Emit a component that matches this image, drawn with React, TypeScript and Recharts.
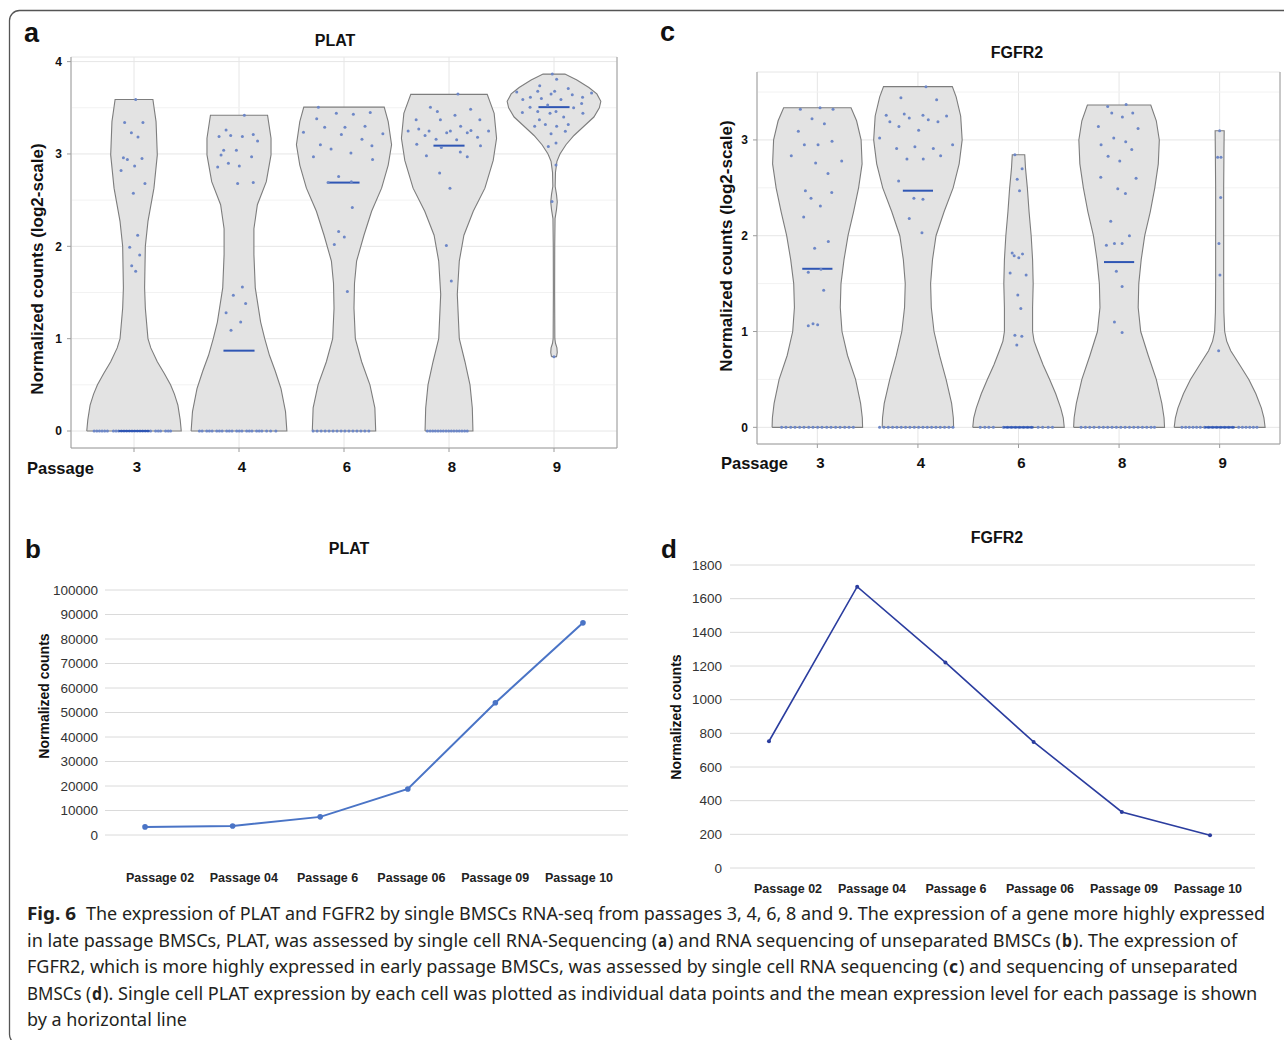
import React, { useLayoutEffect, useRef, useState } from 'react';
import { ScatterChart, Scatter, XAxis, YAxis, CartesianGrid, ReferenceLine, LineChart, Line } from 'recharts';

type Pair = [number, number];
const FONT = '"Liberation Sans", Arial, Helvetica, sans-serif';

// ---------------- data : single-cell violins ----------------
const passages = ['3', '4', '6', '8', '9'];
const platTicks = [0, 1, 2, 3, 4];
const fgfrTicks = [0, 1, 2, 3];
const minorTicks = [0.5, 1.5, 2.5, 3.5];

// density outline: [log2 value, half width in category units]
const platShape3: Pair[] = [[0, 0.45], [0.12, 0.44], [0.28, 0.418], [0.4, 0.385], [0.5, 0.348], [0.62, 0.29], [0.75, 0.222], [0.9, 0.16], [1, 0.133], [1.33, 0.108], [1.55, 0.101], [2, 0.108], [2.27, 0.133], [2.63, 0.19], [2.99, 0.222], [3.35, 0.21], [3.59, 0.18]];
const platShape4: Pair[] = [[0, 0.456], [0.21, 0.443], [0.46, 0.4], [0.65, 0.345], [0.82, 0.29], [1.0, 0.245], [1.18, 0.206], [1.55, 0.155], [1.91, 0.142], [2.19, 0.142], [2.45, 0.175], [2.7, 0.26], [2.99, 0.305], [3.17, 0.305], [3.42, 0.272]];
const platShape6: Pair[] = [[0, 0.302], [0.25, 0.294], [0.5, 0.247], [0.75, 0.168], [1, 0.108], [1.33, 0.095], [1.6, 0.1], [1.84, 0.12], [2.12, 0.19], [2.38, 0.263], [2.63, 0.358], [2.88, 0.421], [3.1, 0.453], [3.35, 0.421], [3.507, 0.383]];
const platShape8: Pair[] = [[0, 0.228], [0.25, 0.222], [0.5, 0.2], [0.75, 0.152], [1, 0.098], [1.48, 0.079], [1.84, 0.098], [2.12, 0.142], [2.38, 0.231], [2.63, 0.342], [2.93, 0.421], [3.17, 0.453], [3.44, 0.43], [3.645, 0.364]];
const platShape9: Pair[] = [[0.805, 0.024], [0.85, 0.031], [0.9, 0.028], [0.95, 0.014], [1.0, 0.008], [1.5, 0.006], [2.0, 0.007], [2.3, 0.01], [2.4, 0.024], [2.48, 0.031], [2.56, 0.024], [2.65, 0.011], [2.8, 0.014], [2.92, 0.028], [3.0, 0.057], [3.1, 0.114], [3.2, 0.19], [3.3, 0.285], [3.4, 0.38], [3.5, 0.432], [3.57, 0.446], [3.65, 0.408], [3.72, 0.332], [3.8, 0.218], [3.865, 0.104]];

const fgfrShape3: Pair[] = [[0, 0.45], [0.1, 0.447], [0.25, 0.43], [0.5, 0.38], [0.75, 0.3], [1.0, 0.245], [1.25, 0.228], [1.5, 0.235], [1.75, 0.265], [2.0, 0.305], [2.25, 0.36], [2.5, 0.41], [2.75, 0.445], [3.0, 0.435], [3.2, 0.39], [3.336, 0.335]];
const fgfrShape4: Pair[] = [[0, 0.355], [0.1, 0.352], [0.25, 0.335], [0.5, 0.28], [0.75, 0.215], [1.0, 0.16], [1.25, 0.133], [1.5, 0.126], [1.75, 0.145], [2.0, 0.18], [2.25, 0.26], [2.5, 0.35], [2.75, 0.41], [3.0, 0.44], [3.25, 0.425], [3.45, 0.38], [3.556, 0.342]];
const fgfrShape6: Pair[] = [[0, 0.455], [0.1, 0.445], [0.2, 0.42], [0.35, 0.37], [0.5, 0.31], [0.65, 0.245], [0.8, 0.19], [0.9, 0.155], [1.0, 0.14], [1.25, 0.14], [1.5, 0.146], [1.75, 0.14], [2.0, 0.126], [2.25, 0.105], [2.5, 0.088], [2.7, 0.07], [2.846, 0.062]];
const fgfrShape8: Pair[] = [[0, 0.452], [0.1, 0.447], [0.25, 0.425], [0.5, 0.37], [0.75, 0.29], [1.0, 0.215], [1.25, 0.19], [1.5, 0.196], [1.75, 0.22], [2.0, 0.255], [2.25, 0.31], [2.5, 0.355], [2.75, 0.39], [3.0, 0.4], [3.2, 0.37], [3.364, 0.315]];
const fgfrShape9: Pair[] = [[0, 0.452], [0.1, 0.44], [0.2, 0.415], [0.35, 0.36], [0.5, 0.29], [0.65, 0.2], [0.8, 0.11], [0.9, 0.07], [1.0, 0.05], [1.2, 0.042], [1.5, 0.04], [2.0, 0.04], [2.5, 0.04], [2.9, 0.043], [3.096, 0.045]];

// individual cells: [jitter, log2 value]
const platCells3: Pair[] = [[0.016, 3.59], [-0.089, 3.34], [0.085, 3.34], [-0.025, 3.23], [0.038, 3.185], [-0.101, 2.96], [-0.063, 2.94], [0.076, 2.95], [0.006, 2.87], [-0.123, 2.82], [0.104, 2.68], [-0.006, 2.575], [0.035, 2.12], [-0.041, 1.99], [0.054, 1.905], [-0.022, 1.79], [0.016, 1.73]];
const platCells4: Pair[] = [[0.051, 3.42], [-0.123, 3.26], [-0.19, 3.19], [-0.079, 3.2], [0.032, 3.19], [0.136, 3.21], [0.177, 3.14], [-0.146, 3.04], [-0.025, 3.04], [-0.171, 2.99], [0.12, 2.97], [-0.101, 2.9], [-0.203, 2.86], [0.003, 2.87], [-0.013, 2.68], [0.136, 2.69], [0.032, 1.56], [-0.054, 1.47], [0.063, 1.38], [-0.123, 1.28], [0.016, 1.18], [-0.076, 1.09]];
const platCells6: Pair[] = [[-0.244, 3.507], [-0.073, 3.44], [0.089, 3.43], [0.25, 3.45], [-0.26, 3.38], [-0.184, 3.29], [0.009, 3.29], [0.2, 3.3], [-0.386, 3.235], [-0.025, 3.21], [0.37, 3.22], [0.171, 3.16], [-0.225, 3.1], [0.266, 3.09], [-0.123, 3.055], [0.066, 3.01], [-0.291, 2.97], [0.272, 2.94], [-0.051, 2.755], [0.07, 2.7], [-0.152, 2.69], [0.079, 2.42], [-0.051, 2.16], [0.003, 2.1], [-0.092, 2.02], [0.032, 1.51]];
const platCells8: Pair[] = [[0.085, 3.65], [-0.177, 3.507], [0.206, 3.485], [-0.111, 3.46], [0.057, 3.42], [-0.313, 3.37], [-0.082, 3.37], [0.294, 3.37], [0.111, 3.3], [-0.288, 3.27], [-0.389, 3.25], [-0.19, 3.25], [0.013, 3.25], [0.209, 3.255], [0.377, 3.25], [-0.022, 3.23], [0.174, 3.23], [-0.228, 3.2], [0.272, 3.18], [-0.123, 3.16], [0.073, 3.155], [-0.307, 3.105], [0.3, 3.09], [-0.073, 3.07], [0.108, 3.02], [-0.215, 2.98], [0.174, 2.97], [-0.089, 2.795], [0.009, 2.63], [-0.025, 2.01], [0.022, 1.625]];
const platCells9: Pair[] = [[-0.016, 3.865], [0.025, 3.81], [-0.136, 3.74], [0.136, 3.71], [-0.355, 3.67], [-0.155, 3.68], [0.006, 3.68], [0.358, 3.66], [-0.028, 3.65], [0.174, 3.64], [-0.225, 3.615], [-0.12, 3.6], [0.272, 3.615], [-0.297, 3.59], [0.066, 3.59], [0.263, 3.546], [-0.06, 3.53], [-0.228, 3.507], [0.187, 3.5], [-0.155, 3.46], [-0.038, 3.44], [0.019, 3.46], [-0.301, 3.45], [0.275, 3.44], [0.092, 3.4], [-0.139, 3.37], [-0.082, 3.32], [0.136, 3.32], [-0.184, 3.3], [0.025, 3.3], [0.108, 3.245], [-0.028, 3.22], [0.019, 3.12], [-0.054, 3.08], [0.019, 2.88], [-0.019, 2.485], [0, 0.805]];

const fgfrCells3: Pair[] = [[-0.169, 3.32], [0.027, 3.336], [0.156, 3.32], [-0.053, 3.22], [0.07, 3.17], [-0.189, 3.09], [-0.129, 2.95], [0.007, 2.95], [0.146, 2.985], [-0.259, 2.835], [0.242, 2.78], [-0.017, 2.76], [0.106, 2.65], [-0.119, 2.47], [0.143, 2.45], [-0.063, 2.39], [0.03, 2.31], [-0.136, 2.195], [0.109, 1.94], [-0.027, 1.87], [-0.09, 1.62], [0.036, 1.65], [0.063, 1.43], [-0.09, 1.06], [-0.043, 1.08], [0.003, 1.07]];
const fgfrCells4: Pair[] = [[0.08, 3.556], [-0.169, 3.44], [0.186, 3.42], [-0.315, 3.257], [-0.136, 3.27], [0.05, 3.257], [0.285, 3.25], [-0.086, 3.23], [-0.279, 3.19], [0.103, 3.21], [0.199, 3.19], [-0.189, 3.14], [0.007, 3.1], [-0.381, 3.02], [0.345, 2.95], [-0.03, 2.93], [-0.212, 2.91], [0.153, 2.91], [0.226, 2.835], [-0.109, 2.8], [0.053, 2.8], [-0.192, 2.57], [-0.04, 2.39], [0.05, 2.38], [-0.086, 2.18], [0.04, 2.03]];
const fgfrCells6: Pair[] = [[-0.036, 2.846], [0.036, 2.7], [-0.013, 2.59], [0.01, 2.47], [-0.063, 1.82], [-0.043, 1.79], [0.003, 1.77], [0.04, 1.81], [-0.083, 1.61], [0.076, 1.59], [-0.007, 1.38], [0.023, 1.24], [-0.036, 0.96], [0.033, 0.95], [-0.017, 0.86]];
const fgfrCells8: Pair[] = [[-0.113, 3.35], [0.07, 3.37], [-0.073, 3.28], [0.136, 3.28], [0.033, 3.24], [-0.206, 3.14], [0.189, 3.12], [-0.053, 3.02], [0.066, 2.98], [-0.179, 2.95], [0.126, 2.9], [-0.109, 2.83], [0.007, 2.78], [-0.182, 2.61], [0.169, 2.6], [-0.013, 2.49], [0.063, 2.44], [-0.083, 2.15], [0.103, 2.0], [-0.126, 1.9], [-0.046, 1.92], [0.03, 1.92], [-0.027, 1.63], [0.03, 1.47], [-0.046, 1.1], [0.03, 0.99]];
const fgfrCells9: Pair[] = [[0, 3.096], [-0.02, 2.82], [0.013, 2.82], [0.01, 2.4], [-0.007, 1.92], [0.003, 1.59], [-0.01, 0.8]];

// cells with zero expression: jitter only
const platZeros3 = [-0.38, -0.354, -0.329, -0.304, -0.279, -0.253, -0.196, -0.171, -0.146, -0.12, -0.095, -0.07, -0.044, -0.019, 0.006, 0.032, 0.057, 0.082, 0.108, 0.133, 0.158, 0.206, 0.231, 0.253, 0.301, 0.326, 0.348];
const platZeros4 = [-0.377, -0.351, -0.307, -0.282, -0.256, -0.212, -0.187, -0.161, -0.117, -0.092, -0.066, -0.022, 0.003, 0.028, 0.073, 0.098, 0.123, 0.168, 0.193, 0.218, 0.263, 0.301, 0.351];
const platZeros6 = [-0.294, -0.256, -0.218, -0.18, -0.142, -0.104, -0.066, -0.028, 0.009, 0.047, 0.085, 0.123, 0.161, 0.199, 0.237];
const platZeros8 = [-0.206, -0.18, -0.155, -0.13, -0.104, -0.079, -0.054, -0.028, -0.003, 0.022, 0.047, 0.073, 0.098, 0.123, 0.149, 0.174];
const platZeros9: number[] = [];
const fgfrZeros3 = [-0.355, -0.312, -0.265, -0.222, -0.176, -0.133, -0.086, -0.043, 0.003, 0.046, 0.093, 0.136, 0.182, 0.226, 0.272, 0.315, 0.358];
const fgfrZeros4 = [-0.381, -0.338, -0.295, -0.252, -0.209, -0.166, -0.123, -0.08, -0.036, 0.007, 0.05, 0.093, 0.136, 0.179, 0.222, 0.265, 0.308, 0.348];
const fgfrZeros6 = [-0.38, -0.335, -0.295, -0.25, -0.15, -0.11, -0.07, -0.03, 0.01, 0.05, 0.09, 0.13, 0.195, 0.24, 0.295, 0.338];
const fgfrZeros8 = [-0.378, -0.335, -0.292, -0.249, -0.199, -0.156, -0.113, -0.07, -0.027, 0.017, 0.06, 0.103, 0.146, 0.189, 0.232, 0.275, 0.318, 0.352];
const fgfrZeros9 = [-0.375, -0.338, -0.302, -0.265, -0.229, -0.192, -0.15, -0.11, -0.07, -0.03, 0.01, 0.05, 0.09, 0.13, 0.189, 0.226, 0.262, 0.299, 0.335, 0.371];

const platMeans = [0, 0.87, 2.69, 3.09, 3.507];
const fgfrMeans = [1.655, 2.47, 0, 1.725, 0];

// ---------------- data : bulk RNA-seq lines ----------------
const bulkLabels = ['Passage 02', 'Passage 04', 'Passage 6', 'Passage 06', 'Passage 09', 'Passage 10'];
const platBulk = [3300, 3700, 7400, 18800, 54000, 86600];
const fgfrBulk = [753, 1671, 1221, 749, 333, 194];
const platBulkTicks = [0, 10000, 20000, 30000, 40000, 50000, 60000, 70000, 80000, 90000, 100000];
const fgfrBulkTicks = [0, 200, 400, 600, 800, 1000, 1200, 1400, 1600, 1800];

// ---------------- caption (text, bold?, x, width) ----------------
type Seg = [string, boolean, number, number];
const captionLines: { y: number; segs: Seg[] }[] = [
  { y: 920, segs: [
    ['Fig. 6', true, 27, 49],
    ['The expression of PLAT and FGFR2 by single BMSCs RNA-seq from passages 3, 4, 6, 8 and 9. The expression of a gene more highly expressed', false, 86, 1179],
  ] },
  { y: 947, segs: [
    ['in late passage BMSCs, PLAT, was assessed by single cell RNA-Sequencing (', false, 27, 630],
    ['a', true, 658, 9],
    [') and RNA sequencing of unseparated BMSCs (', false, 668, 393],
    ['b', true, 1062, 10],
    ['). The expression of', false, 1073, 164],
  ] },
  { y: 973, segs: [
    ['FGFR2, which is more highly expressed in early passage BMSCs, was assessed by single cell RNA sequencing (', false, 27, 921],
    ['c', true, 949, 9],
    [') and sequencing of unseparated', false, 959, 279],
  ] },
  { y: 1000, segs: [
    ['BMSCs (', false, 27, 64],
    ['d', true, 92, 10],
    ['). Single cell PLAT expression by each cell was plotted as individual data points and the mean expression level for each passage is shown', false, 103, 1154],
  ] },
  { y: 1026, segs: [['by a horizontal line', false, 27, 160]] },
];

// ---------------- helpers ----------------
function outline(center: number, profile: Pair[]) {
  const first = { x: center - profile[0][1], y: profile[0][0] };
  const right = profile.map(([v, w]) => ({ x: center + w, y: v }));
  const left = profile.slice().reverse().map(([v, w]) => ({ x: center - w, y: v }));
  return [first, ...right, ...left];
}
const NoShape = () => <g />;
const CellDot = (p: any) => <circle cx={p.cx} cy={p.cy} r={1.5} fill="#6d87c7" />;

// caption text squeezed horizontally to the measured width of the original line
function FitText(props: { x: number; y: number; w: number; bold: boolean; text: string }) {
  const ref = useRef<SVGTextElement>(null);
  const [sx, setSx] = useState(0.85);
  useLayoutEffect(() => {
    const el = ref.current;
    if (!el) return;
    const natural = el.getComputedTextLength();
    if (natural > 0) setSx(props.w / natural);
  }, [props.w, props.text]);
  return (
    <text ref={ref} transform={`translate(${props.x},${props.y}) scale(${sx},1)`}
      fontFamily='"Noto Sans", "Open Sans", sans-serif' fontSize={18.5} fill="#231f20"
      fontWeight={props.bold ? 700 : 400} style={{ whiteSpace: 'pre' }}>{props.text}</text>
  );
}

type ViolinProps = {
  left: number; top: number; width: number; height: number;
  margin: { top: number; right: number; bottom: number; left: number };
  xAxisHeight: number; yDomain: [number, number]; yTicks: number[];
  shapes: Pair[][]; cells: Pair[][]; zeros: number[][]; means: number[]; meanHalf: number;
};

function ViolinPanel(p: ViolinProps) {
  return (
    <div style={{ position: 'absolute', left: p.left, top: p.top }}>
      <ScatterChart width={p.width} height={p.height} margin={p.margin}>
        <CartesianGrid stroke="#e6e6e6" strokeWidth={1} />
        {minorTicks.filter((v) => v < p.yDomain[1]).map((v) => (
          <ReferenceLine key={'mn' + v} y={v} stroke="#f2f2f2" strokeWidth={1} />
        ))}
        <ReferenceLine x={4.6} stroke="#9c9c9c" strokeWidth={1} />
        <XAxis
          type="number" dataKey="x" domain={[-0.6, 4.6]} ticks={[0, 1, 2, 3, 4]} interval={0}
          allowDataOverflow height={p.xAxisHeight} stroke="#9c9c9c" tickSize={4} tickMargin={9}
          tickFormatter={(i: number) => passages[i]}
          tick={{ fontSize: 15, fontWeight: 700, fill: '#111', fontFamily: FONT, dx: 3 }}
        />
        <YAxis
          type="number" dataKey="y" domain={p.yDomain} ticks={p.yTicks} interval={0}
          allowDataOverflow width={71} stroke="#9c9c9c" tickSize={4} tickMargin={5}
          tick={{ fontSize: 12, fontWeight: 700, fill: '#111', fontFamily: FONT }}
        />
        {p.shapes.map((s, i) => (
          <Scatter key={'v' + i} data={outline(i, s)} fill="#e3e3e3" shape={NoShape}
            line={{ stroke: '#7d7d7d', strokeWidth: 1.1, fill: '#e3e3e3' }} isAnimationActive={false} />
        ))}
        {p.zeros.map((z, i) => (
          <Scatter key={'z' + i} data={z.map((d) => ({ x: i + d, y: 0 }))} fill="#6d87c7" shape={CellDot} isAnimationActive={false} />
        ))}
        {p.means.map((m, i) => (
          <Scatter key={'m' + i} data={[{ x: i - p.meanHalf, y: m }, { x: i + p.meanHalf, y: m }]} fill="#2f56b4"
            shape={NoShape} line={{ stroke: '#2f56b4', strokeWidth: 2 }} isAnimationActive={false} />
        ))}
        {p.cells.map((c, i) => (
          <Scatter key={'c' + i} data={c.map(([d, v]) => ({ x: i + d, y: v }))} fill="#6d87c7" shape={CellDot} isAnimationActive={false} />
        ))}
      </ScatterChart>
    </div>
  );
}

type LineProps = {
  left: number; top: number; width: number; height: number;
  margin: { top: number; right: number; bottom: number; left: number };
  yAxisWidth: number; xAxisHeight: number; xDomain: [number, number];
  yDomain: [number, number]; yTicks: number[]; values: number[];
  color: string; strokeWidth: number; dotR: number;
  labelDy: number; labelDx0: number; labelDxStep: number; yTickMargin: number;
};

function LinePanel(p: LineProps) {
  const data = p.values.map((v, i) => ({ i, v }));
  const Tick = (t: any) => {
    const i = t.payload.value as number;
    return (
      <text x={t.x + p.labelDx0 + p.labelDxStep * i} y={t.y + p.labelDy} textAnchor="middle"
        fontSize={12.5} fontWeight={700} fill="#222" fontFamily={FONT}>{bulkLabels[i]}</text>
    );
  };
  return (
    <div style={{ position: 'absolute', left: p.left, top: p.top }}>
      <LineChart width={p.width} height={p.height} data={data} margin={p.margin}>
        <CartesianGrid vertical={false} stroke="#dadada" strokeWidth={1} />
        <XAxis type="number" dataKey="i" domain={p.xDomain} allowDataOverflow ticks={[0, 1, 2, 3, 4, 5]} interval={0}
          height={p.xAxisHeight} axisLine={false} tickLine={false} tickSize={0} tickMargin={0} tick={Tick} />
        <YAxis type="number" domain={p.yDomain} ticks={p.yTicks} interval={0} allowDataOverflow width={p.yAxisWidth}
          axisLine={false} tickLine={false} tickSize={0} tickMargin={p.yTickMargin}
          tick={{ fontSize: 13.5, fill: '#333', fontFamily: FONT }} />
        <Line type="linear" dataKey="v" stroke={p.color} strokeWidth={p.strokeWidth}
          dot={{ r: p.dotR, fill: p.color, stroke: p.color, strokeWidth: 0 }} activeDot={false} isAnimationActive={false} />
      </LineChart>
    </div>
  );
}

export default function App() {
  const bold = { fontFamily: FONT, fontWeight: 700, fill: '#111' } as const;
  return (
    <div style={{ position: 'absolute', left: 0, top: 0, width: 1284, height: 1040, overflow: 'hidden', background: '#fff' }}>
      <ViolinPanel left={0} top={0} width={640} height={490} margin={{ top: 57, right: 23, bottom: 0, left: 0 }}
        xAxisHeight={42} yDomain={[-0.184, 4.05]} yTicks={platTicks}
        shapes={[platShape3, platShape4, platShape6, platShape8, platShape9]}
        cells={[platCells3, platCells4, platCells6, platCells8, platCells9]}
        zeros={[platZeros3, platZeros4, platZeros6, platZeros8, platZeros9]}
        means={platMeans} meanHalf={0.148} />
      <ViolinPanel left={686} top={0} width={598} height={490} margin={{ top: 72, right: 4, bottom: 0, left: 0 }}
        xAxisHeight={46} yDomain={[-0.174, 3.709]} yTicks={fgfrTicks}
        shapes={[fgfrShape3, fgfrShape4, fgfrShape6, fgfrShape8, fgfrShape9]}
        cells={[fgfrCells3, fgfrCells4, fgfrCells6, fgfrCells8, fgfrCells9]}
        zeros={[fgfrZeros3, fgfrZeros4, fgfrZeros6, fgfrZeros8, fgfrZeros9]}
        means={fgfrMeans} meanHalf={0.15} />
      <LinePanel left={0} top={560} width={640} height={340} margin={{ top: 30, right: 12, bottom: 0, left: 0 }}
        yAxisWidth={105} xAxisHeight={65} xDomain={[-0.457, 5.514]} yDomain={[0, 100000]} yTicks={platBulkTicks}
        values={platBulk} color="#4a74c6" strokeWidth={2} dotR={2.8}
        labelDy={46.5} labelDx0={15} labelDxStep={-3.8} yTickMargin={7} />
      <LinePanel left={620} top={530} width={664} height={380} margin={{ top: 35, right: 29, bottom: 0, left: 0 }}
        yAxisWidth={110} xAxisHeight={42} xDomain={[-0.442, 5.51]} yDomain={[0, 1800]} yTicks={fgfrBulkTicks}
        values={fgfrBulk} color="#2b3d9f" strokeWidth={1.6} dotR={2}
        labelDy={24.5} labelDx0={19} labelDxStep={-4.2} yTickMargin={8} />

      <svg width={1284} height={1040} style={{ position: 'absolute', left: 0, top: 0, pointerEvents: 'none' }}>
        <rect x={9.5} y={10.5} width={1400} height={1034} rx={10} fill="none" stroke="#555" strokeWidth={1.3} />
        <text x={24} y={42} fontSize={27} {...bold}>a</text>
        <text x={660} y={41} fontSize={27} {...bold}>c</text>
        <text x={25} y={558} fontSize={26} {...bold}>b</text>
        <text x={661} y={558} fontSize={26} {...bold}>d</text>

        <text x={335} y={46} fontSize={16} textAnchor="middle" {...bold}>PLAT</text>
        <text x={1017} y={58} fontSize={16} textAnchor="middle" {...bold}>FGFR2</text>
        <text x={349} y={554} fontSize={16} textAnchor="middle" {...bold}>PLAT</text>
        <text x={997} y={543} fontSize={16} textAnchor="middle" {...bold}>FGFR2</text>

        <text x={27} y={474} fontSize={16.5} {...bold}>Passage</text>
        <text x={721} y={469} fontSize={16.5} {...bold}>Passage</text>

        <text transform="translate(43,269) rotate(-90)" fontSize={17} textAnchor="middle" {...bold}>Normalized counts (log2-scale)</text>
        <text transform="translate(732,246) rotate(-90)" fontSize={17} textAnchor="middle" {...bold}>Normalized counts (log2-scale)</text>
        <text transform="translate(49,696) rotate(-90)" fontSize={14} textAnchor="middle" {...bold}>Normalized counts</text>
        <text transform="translate(681,717) rotate(-90)" fontSize={14} textAnchor="middle" {...bold}>Normalized counts</text>

        {captionLines.map((line, li) =>
          line.segs.map(([t, b, x, w], si) => (
            <FitText key={li + '-' + si} x={x} y={line.y} w={w} bold={b} text={t} />
          ))
        )}
      </svg>
    </div>
  );
}
